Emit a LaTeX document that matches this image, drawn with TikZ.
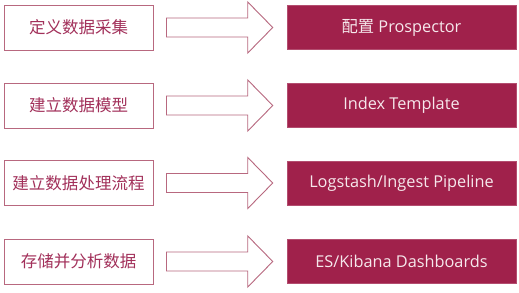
\documentclass[tikz,border=0pt]{standalone}
\usepackage{fontspec}
\setmainfont{Open Sans}
\newfontfamily\cjk{Noto Sans CJK SC}
\usetikzlibrary{calc}
\definecolor{crimson}{HTML}{A0214B}
\definecolor{rose}{HTML}{B8687F}
\definecolor{roseText}{HTML}{A2305A}
\definecolor{paleText}{HTML}{F6E8EC}
\tikzset{
  stagebox/.style={draw=rose, line width=0.9pt, fill=white, minimum width=149pt,
    minimum height=45pt, inner sep=0pt, text=roseText, font=\cjk\fontsize{16.5}{18}\selectfont},
  toolbox/.style={fill=crimson, draw=crimson!80!white, line width=0.5pt, minimum width=229pt,
    minimum height=44pt, inner sep=0pt, text=paleText, font=\fontsize{16.3}{18}\selectfont},
  bigarrow/.style={draw=rose, line width=0.9pt, fill=white, line join=miter}
}
\begin{document}
\begin{tikzpicture}[x=1pt,y=-1pt]
  \useasboundingbox (0,0) rectangle (519,292);
  \fill[white] (0,0) rectangle (519,292);

  % stages on the left
  \node[stagebox] (s1) at (78.5,27.5) {定义数据采集};
  \node[stagebox] (s2) at (78.5,105.5) {建立数据模型};
  \node[stagebox] (s3) at (78.5,183) {建立数据处理流程};
  \node[stagebox] (s4) at (78.5,261.5) {存储并分析数据};

  % tools on the right
  \node[toolbox] (t1) at (401.5,27.5) {{\cjk 配置} Prospector};
  \node[toolbox] (t2) at (401.5,105.5) {Index Template};
  \node[toolbox] (t3) at (401.5,183) {Logstash/Ingest Pipeline};
  \node[toolbox] (t4) at (401.5,261.5) {ES/Kibana Dashboards};

  % block arrows from each stage to its tool
  \foreach \i in {1,2,3,4}{
    \coordinate (a\i) at ($(s\i.east)+(13,0)$);
    \coordinate (b\i) at ($(t\i.west)+(-14,0)$);
    \draw[bigarrow] (a\i) ++(0,-9.5) -- ($(b\i)+(-25,-9.5)$) -- ($(b\i)+(-25,-25.5)$)
      -- (b\i) -- ($(b\i)+(-25,25.5)$) -- ($(b\i)+(-25,9.5)$) -- ($(a\i)+(0,9.5)$) -- cycle;
  }
\end{tikzpicture}
\end{document}
